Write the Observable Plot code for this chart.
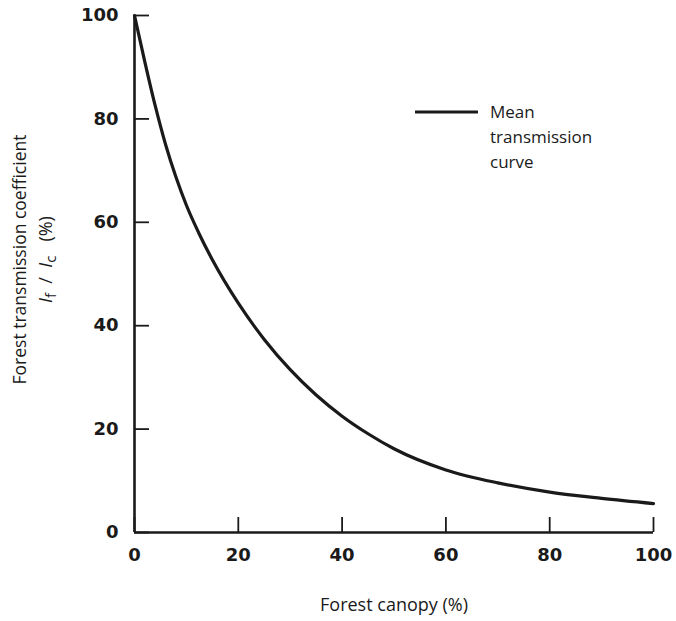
<!DOCTYPE html>
<html>
<head>
<meta charset="utf-8">
<script src="https://cdn.jsdelivr.net/npm/d3@7"></script>
<script src="https://cdn.jsdelivr.net/npm/@observablehq/plot@0.6"></script>
<style>
  html, body { margin: 0; padding: 0; background: #fff; }
  #chart { position: relative; width: 676px; height: 621px; }
</style>
</head>
<body>
<div id="chart"></div>
<script>
// Mean forest transmission curve: canopy cover (%) vs transmission coefficient If/Ic (%)
const canopy = [0, 2, 4, 6, 8, 10, 12.5, 15, 20, 25, 30, 35, 40, 45, 50, 60, 70, 80, 90, 100];
const transmission = [100, 91, 82.5, 75, 68.7, 63.3, 57.7, 52.75, 44.35, 37.35, 31.5, 26.6, 22.5, 19.1, 16.2, 12.1, 9.6, 7.8, 6.6, 5.6];

const xTicks = [0, 20, 40, 60, 80, 100];
const yTicks = [0, 20, 40, 60, 80, 100];
const xTitle = ["Forest canopy (%)"];
const legendLines = ["Mean", "transmission", "curve"];

const data = canopy.map((c, i) => ({canopy: c, value: transmission[i]}));

const ink = "#1a1a1a";
const W = 676, H = 621;
const margin = {top: 15, right: 23, bottom: 89, left: 134};

const plot = Plot.plot({
  width: W,
  height: H,
  marginTop: margin.top,
  marginRight: margin.right,
  marginBottom: margin.bottom,
  marginLeft: margin.left,
  style: {background: "#fff", color: ink, overflow: "visible"},
  x: {domain: [0, 100], label: null},
  y: {domain: [0, 100], label: null},
  marks: [
    // inward tick marks
    Plot.axisX(xTicks, {tickSize: -15, tickFormat: () => "", label: null, strokeWidth: 1.8, stroke: ink}),
    Plot.axisY(yTicks, {tickSize: -15, tickFormat: () => "", label: null, strokeWidth: 1.8, stroke: ink}),
    // tick labels
    Plot.axisX(xTicks, {tickSize: 0, tickPadding: 16, label: null, fontSize: 18, fontWeight: "bold", fontFamily: "DejaVu Sans", fill: ink}),
    Plot.axisY(yTicks, {tickSize: 0, tickPadding: 16, label: null, fontSize: 18, fontWeight: "bold", fontFamily: "DejaVu Sans", fill: ink}),
    // axis lines
    Plot.ruleX([0], {stroke: ink, strokeWidth: 2.6}),
    Plot.ruleY([0], {stroke: ink, strokeWidth: 2.6}),
    // the curve
    Plot.line(data, {x: "canopy", y: "value", curve: "monotone-x", stroke: ink, strokeWidth: 3.2}),
    // x title
    Plot.text(xTitle, {text: d => d, frameAnchor: "bottom", dy: 78, fontSize: 18, fontFamily: "Open Sans", fill: ink})
  ]
});

document.getElementById("chart").appendChild(plot);

const svg = d3.select(plot);
const font = "Open Sans";

// y-axis title: two rotated lines, the second with subscripts
const cy = (margin.top + (H - margin.bottom)) / 2 - 14;
const yt = svg.append("g").attr("transform", `translate(26,${cy}) rotate(-90)`)
  .attr("font-family", font).attr("fill", ink).attr("text-anchor", "middle");
yt.append("text").attr("font-size", 17.5).text("Forest transmission coefficient");
const l2 = yt.append("text").attr("font-size", 18).attr("y", 26).attr("xml:space", "preserve")
  .style("white-space", "pre");
l2.append("tspan").attr("font-style", "italic").text("I");
l2.append("tspan").attr("font-size", 15).attr("dy", 4).text("f");
l2.append("tspan").attr("dy", -4).text("  /  ");
l2.append("tspan").attr("font-style", "italic").text("I");
l2.append("tspan").attr("font-size", 15).attr("dy", 4).text("c");
l2.append("tspan").attr("dy", -4).text("   (%)");

// legend
const lg = svg.append("g").attr("transform", "translate(415,112)");
lg.append("line").attr("x1", 0).attr("x2", 63).attr("y1", 0).attr("y2", 0)
  .attr("stroke", ink).attr("stroke-width", 3.2);
const lt = lg.append("text").attr("font-family", font).attr("font-size", 17)
  .attr("fill", ink).attr("text-anchor", "start");
legendLines.forEach((s, i) => {
  lt.append("tspan").attr("x", 75).attr("y", 6 + i * 25).text(s);
});
</script>
</body>
</html>
